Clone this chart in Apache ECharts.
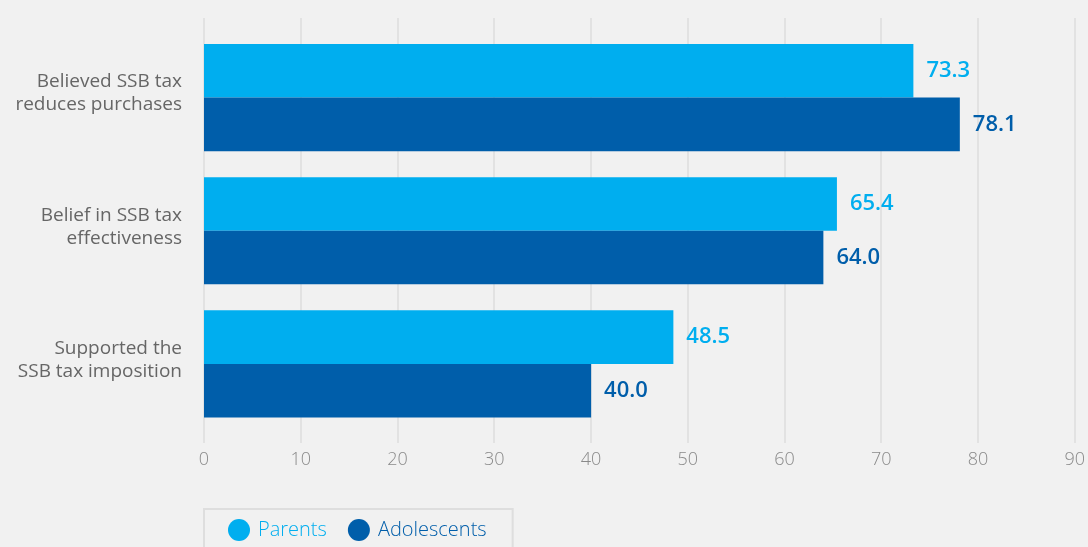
<!DOCTYPE html>
<html>
<head>
<meta charset="utf-8">
<script src="https://cdn.jsdelivr.net/npm/echarts@6/dist/echarts.min.js"></script>
<style>
  * { margin: 0; padding: 0; }
  html, body { background: #f1f1f1; }
  #chart-container { width: 1088px; height: 547px; overflow: hidden; }
</style>
</head>
<body>
<div id="chart-container"></div>
<script>
  var categories = ['Believed SSB tax\nreduces purchases', 'Belief in SSB tax\neffectiveness', 'Supported the\nSSB tax imposition']
  var parents = [73.3, 65.4, 48.5]
  var adolescents = [78.1, 64.0, 40.0]
  var xTicks = { min: 0, max: 90, interval: 10 }

  var font = '"Open Sans", "Noto Sans", sans-serif'
  var lightBlue = '#00aeef'
  var darkBlue = '#005eaa'

  var myChart = echarts.init(document.getElementById('chart-container'), null, { renderer: 'canvas' })

  var option = {
    backgroundColor: '#f1f1f1',
    textStyle: { fontFamily: font },
    grid: [
      { left: 204, right: 13, top: 31, bottom: 116.5 },
      { left: 204, right: 13, top: 18, bottom: 104 },
    ],
    xAxis: [
      {
        gridIndex: 0,
        type: 'value',
        min: xTicks.min,
        max: xTicks.max,
        interval: xTicks.interval,
        show: false,
      },
      {
        gridIndex: 1,
        type: 'value',
        min: xTicks.min,
        max: xTicks.max,
        interval: xTicks.interval,
        axisLine: { show: false },
        axisTick: { show: false },
        splitLine: { show: true, lineStyle: { color: '#dcdcdc', width: 1.5 } },
        axisLabel: { color: '#8a8a8a', fontSize: 18, fontWeight: 300, margin: 8, fontFamily: font },
      },
    ],
    yAxis: [
      {
        gridIndex: 0,
        type: 'category',
        data: categories,
        inverse: true,
        axisLine: { show: false },
        axisTick: { show: false },
        splitLine: { show: false },
        axisLabel: {
          margin: 22,
          align: 'right',
          // small empty line at the end nudges the two text lines up a little
          formatter: function (v) {
            return v.split('\n').map(function (l) { return '{t|' + l + '}' }).join('\n') + '\n{s| }'
          },
          rich: {
            t: { color: '#666', fontSize: 19, lineHeight: 23, fontFamily: font, align: 'right' },
            s: { fontSize: 1, lineHeight: 8 },
          },
        },
      },
      { gridIndex: 1, type: 'value', show: false, min: 0, max: 1 },
    ],
    legend: {
      left: 204,
      top: 509,
      padding: [10, 26, 14, 24],
      borderColor: '#dedede',
      borderWidth: 2,
      itemWidth: 22,
      itemHeight: 22,
      itemGap: 21,
      icon: 'circle',
      textStyle: { fontSize: 20, fontWeight: 300, fontFamily: font, padding: [0, 0, 0, 3] },
      data: [
        { name: 'Parents', textStyle: { color: lightBlue } },
        { name: 'Adolescents', textStyle: { color: darkBlue } },
      ],
    },
    series: [
      {
        name: 'Parents',
        type: 'bar',
        data: parents,
        itemStyle: { color: lightBlue },
        barGap: '0%',
        barCategoryGap: '19.5%',
        label: {
          show: true,
          position: 'right',
          distance: 13,
          color: lightBlue,
          fontSize: 22,
          fontWeight: 600,
          fontFamily: font,
          formatter: function (p) { return p.value.toFixed(1) },
        },
      },
      {
        name: 'Adolescents',
        type: 'bar',
        data: adolescents,
        itemStyle: { color: darkBlue },
        barGap: '0%',
        barCategoryGap: '19.5%',
        label: {
          show: true,
          position: 'right',
          distance: 13,
          color: darkBlue,
          fontSize: 22,
          fontWeight: 600,
          fontFamily: font,
          formatter: function (p) { return p.value.toFixed(1) },
        },
      },
    ],
  }

  myChart.setOption(option)
  window.addEventListener('resize', myChart.resize)
</script>
</body>
</html>
